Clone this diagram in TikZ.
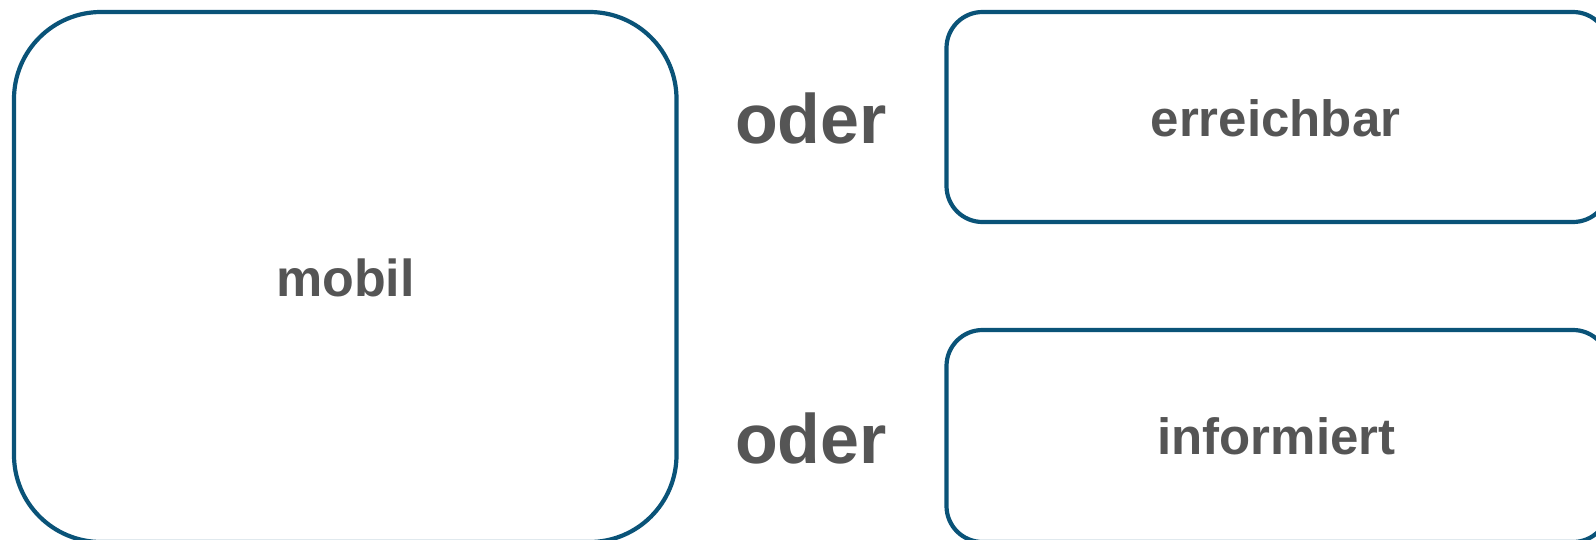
\documentclass[tikz,border=0pt]{standalone}
\usepackage{fontspec}
\setmainfont{Liberation Sans}
\definecolor{frame}{RGB}{10,83,120}
\definecolor{label}{RGB}{85,85,85}
\tikzset{
  panel/.style={draw=frame, line width=4.2pt, rectangle, inner sep=0pt, outer sep=0pt},
  word/.style={text=label, font=\bfseries, inner sep=0pt, anchor=base},
}
\begin{document}
\begin{tikzpicture}[x=1pt,y=-1pt]
  \useasboundingbox (0,0) rectangle (1596,539);
  \clip (0,0) rectangle (1596,539);
  % frames
  \node[panel, rounded corners=87pt, minimum width=662.5pt, minimum height=530pt] (mobilbox) at (345.25,277) {};
  \node[panel, rounded corners=36pt, minimum width=662.5pt, minimum height=210pt] (erreichbox) at (1277.75,117) {};
  \node[panel, rounded corners=36pt, minimum width=662.5pt, minimum height=212pt] (infobox) at (1277.75,436) {};
  % labels
  \node[word, font=\fontsize{52}{60}\selectfont\bfseries] (mobil) at (345.5,296.5) {mobil};
  \node[word, font=\fontsize{51}{60}\selectfont\bfseries] (erreichbar) at (1275.5,136) {erreichbar};
  \node[word, font=\fontsize{51}{60}\selectfont\bfseries] (informiert) at (1276.5,454) {informiert};
  \node[word, font=\fontsize{70}{84}\selectfont\bfseries] (oder1) at (811,143) {oder};
  \node[word, font=\fontsize{70}{84}\selectfont\bfseries] (oder2) at (811,463) {oder};
\end{tikzpicture}
\end{document}
